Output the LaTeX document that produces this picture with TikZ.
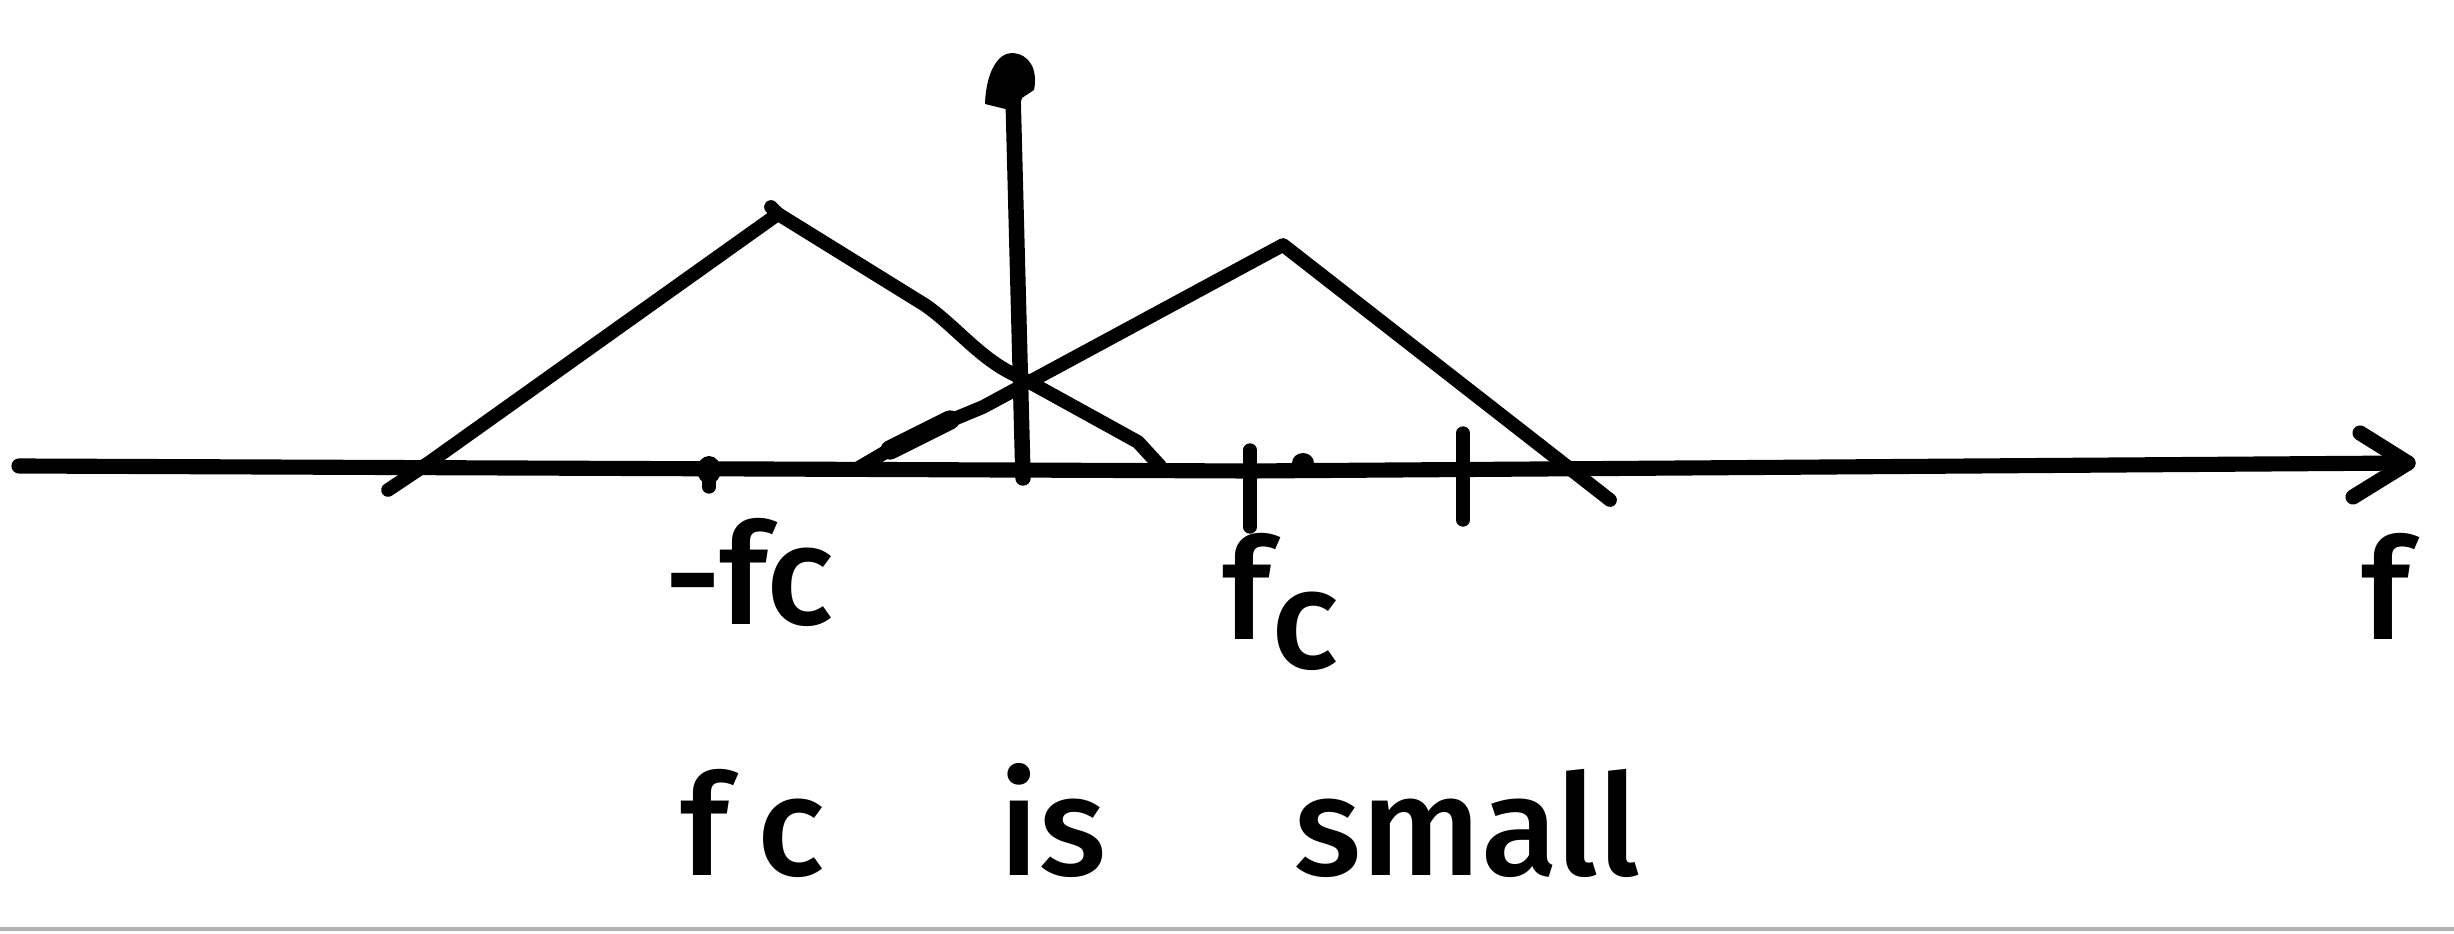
\documentclass[tikz,border=0pt]{standalone}
\usepackage{fontspec}
\setmainfont{Fira Sans Medium}
\begin{document}
\begin{tikzpicture}[x=0.01cm,y=-0.01cm,line cap=round,line join=round,
  curveline/.style={line width=3.9pt},
  axisline/.style={line width=4.3pt},
  tickline/.style={line width=3.8pt},
  lab/.style={font=\fontsize{40}{46}\selectfont,inner sep=0pt,anchor=base}]
\useasboundingbox (0,0) rectangle (2454,934);
% scan edge at the bottom
\draw[gray!60,line width=1pt,line cap=butt] (0,929) -- (2454,929);
% frequency axis
\coordinate (xl) at (19,466);
\coordinate (xm) at (1250,471);
\coordinate (xr) at (2408,463);
\draw[axisline] (xl) -- (xm) -- (xr);
\draw[axisline] (2360,433) -- (xr) -- (2353,497);
% vertical axis
\coordinate (yb) at (1023,478);
\coordinate (yt) at (1013,95);
\draw[line width=4.4pt] (yb) -- (yt);
\fill (1018,112) -- (985,104) .. controls (986,72) and (998,53) .. (1012,53)
  .. controls (1030,54) and (1038,70) .. (1034,90) -- (1022,98) -- cycle;
% left triangle (around -fc)
\coordinate (lp) at (778,214);
\draw[curveline] (388,490) -- (430,462) -- (lp);
\draw[curveline] (771,207) -- (lp);
\draw[curveline] (lp) -- (925,305) .. controls (958,328) and (982,362) .. (1022,378)
  -- (1138,442) -- (1160,466);
% right triangle (around fc)
\coordinate (rp) at (1283,245);
\draw[curveline] (855,470) -- (913,436) -- (983,407) -- (rp) -- (1610,500);
\draw[line width=5.5pt] (890,450) -- (950,420);
% marks on the axis
\fill (709,470) ellipse [x radius=12, y radius=14];
\draw[tickline] (709,470) -- (709,487);
\draw[tickline] (1250,450) -- (1250,527);
\fill (1303,463) ellipse [x radius=11, y radius=10];
\draw[tickline] (1463,433) -- (1463,520);
% labels
\node[lab] (mfc) at (749,625) {-fc};
\node[lab] (fc) at (1281,640) {f\raisebox{-0.2em}{c}};
\node[lab] (f) at (2386,640) {f};
\node[lab] (t1) at (753,876) {f\hspace{0.2em}c};
\node[lab] (t2) at (1053,876) {is};
\node[lab] (t3) at (1467,876) {small};
\end{tikzpicture}
\end{document}
